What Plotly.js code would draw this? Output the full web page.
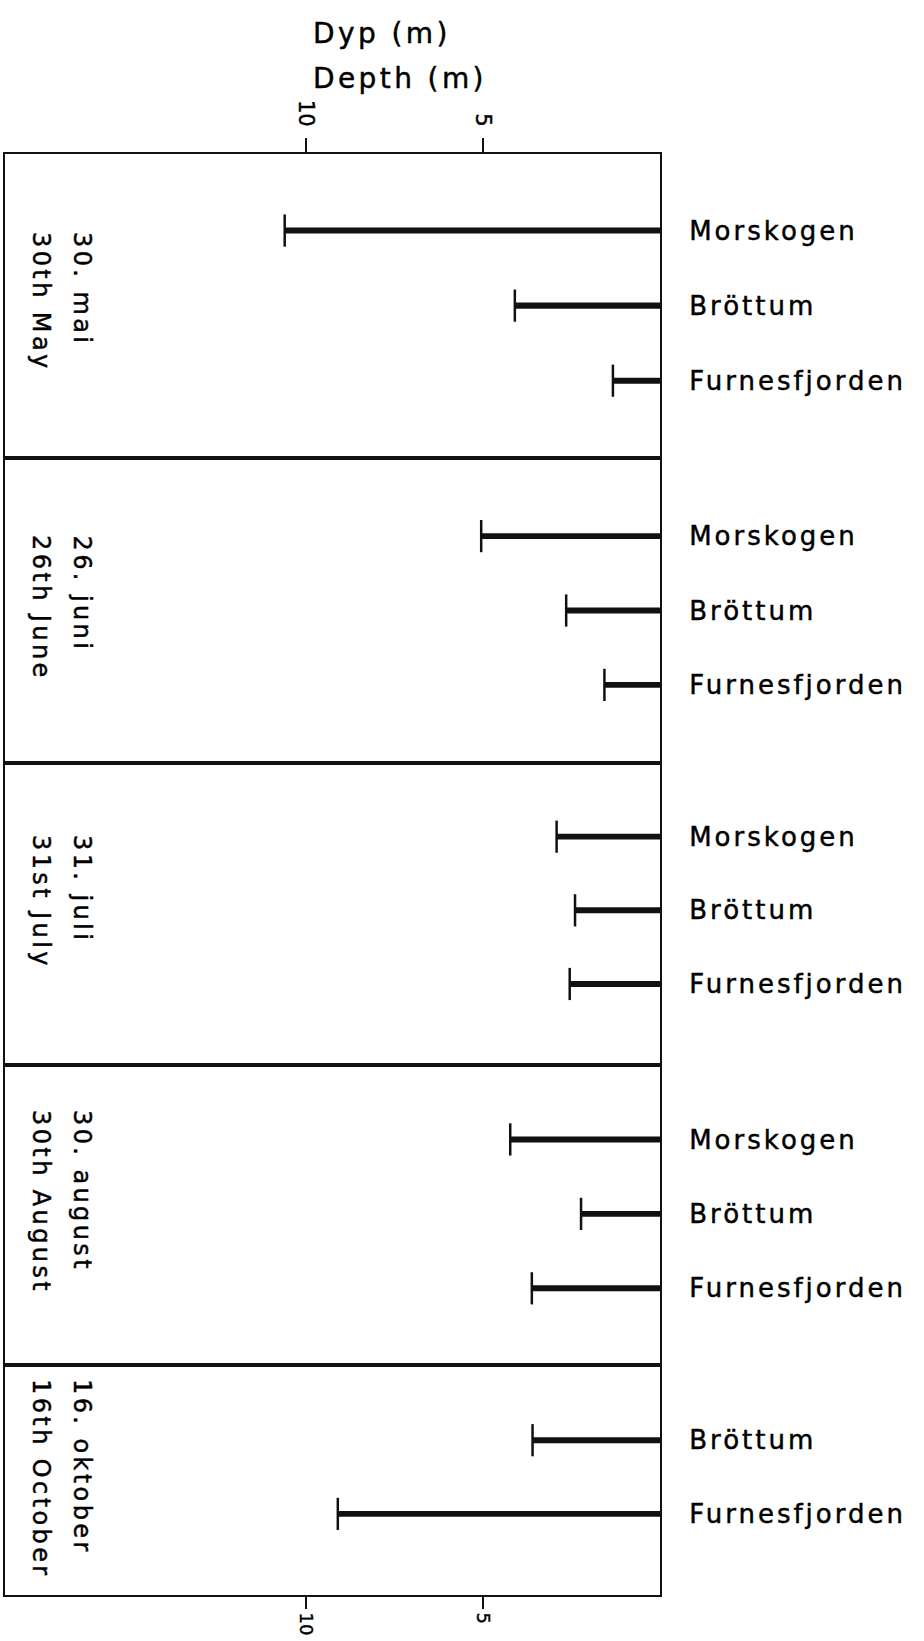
<!DOCTYPE html>
<html>
<head>
<meta charset="utf-8">
<script src="https://cdn.plot.ly/plotly-3.0.1.min.js"></script>
<style>
  html, body { margin: 0; padding: 0; background: #fff; }
  #chart { width: 924px; height: 1641px; }
  .ytick text, .y2tick text, .y3tick text, .y4tick text, .y5tick text { letter-spacing: 3px; }
  .annotation-text { letter-spacing: 3.4px; }
  .main-svg text { stroke: #000; stroke-width: 0.45px; }
</style>
</head>
<body>
<div id="chart"></div>
<script>
// ---- data ----
const datesNo = ['30. mai', '26. juni', '31. juli', '30. august', '16. oktober'];
const datesEn = ['30th May', '26th June', '31st July', '30th August', '16th October'];
const stations = ['Morskogen', 'Bröttum', 'Furnesfjorden'];
const depthMorskogen = [10.6, 5.05, 2.92, 4.23, null];
const depthBrottum = [4.1, 2.65, 2.4, 2.23, 3.6];
const depthFurnesfjorden = [1.33, 1.57, 2.55, 3.62, 9.1];
const depthTicks = [5, 10];
const titleLines = ['Dyp (m)', 'Depth (m)'];

// ---- layout helpers (pixel geometry of the frame) ----
const L = 5, R = 660, T = 154, B = 1595;
const W = R - L, H = B - T;
const px = x => (x - L) / W;
const py = y => (B - y) / H;
const panelEdges = [154, 458, 763, 1065, 1365, 1595];
const yRanges = [[3.03, -1.02], [3.05, -1.05], [3.1, -1.0], [3.03, -1.0], [2.1, -1.02]];
const dateTops = [230, 533, 833, 1108, 1377];
const FONT = 'DejaVu Sans, Arial, sans-serif';

const series = [depthMorskogen, depthBrottum, depthFurnesfjorden];
const traces = [];
const layout = {
  width: 924, height: 1641,
  margin: {l: L, r: 924 - R, t: T, b: 1641 - B, pad: 0},
  paper_bgcolor: '#fff', plot_bgcolor: '#fff',
  showlegend: false,
  font: {family: FONT, color: '#000'},
  annotations: []
};

for (let p = 0; p < datesNo.length; p++) {
  const cats = [], vals = [];
  for (let s = 0; s < stations.length; s++) {
    const v = series[s][p];
    if (v !== null && v !== undefined) { cats.push(stations[s]); vals.push(v); }
  }
  const n = p + 1;
  const xa = n === 1 ? 'x' : 'x' + n;
  const ya = n === 1 ? 'y' : 'y' + n;
  traces.push({
    type: 'bar', orientation: 'h', x: vals, y: cats, xaxis: xa, yaxis: ya,
    width: 0.08, marker: {color: '#111'}, hoverinfo: 'x+y'
  });
  traces.push({
    type: 'scatter', mode: 'markers', x: vals, y: cats, xaxis: xa, yaxis: ya,
    marker: {symbol: 'line-ns-open', size: 23, color: '#111', line: {width: 2.5, color: '#111'}},
    hoverinfo: 'skip'
  });
  const isTop = p === 0, isBottom = p === datesNo.length - 1;
  const xKey = n === 1 ? 'xaxis' : 'xaxis' + n;
  const yKey = n === 1 ? 'yaxis' : 'yaxis' + n;
  layout[xKey] = {
    anchor: ya, domain: [0, 1], range: [18.5, 0],
    matches: n === 1 ? undefined : 'x',
    side: isTop ? 'top' : 'bottom',
    showline: true, mirror: true, linewidth: 2, linecolor: '#111',
    showgrid: false, zeroline: false,
    ticks: (isTop || isBottom) ? 'outside' : '',
    ticklen: isTop ? 14 : 12, tickwidth: 2, tickcolor: '#111',
    tickvals: depthTicks,
    showticklabels: isTop || isBottom,
    tickangle: 90, ticklabelstandoff: isTop ? 4 : 0,
    tickfont: {family: FONT, size: isTop ? 21 : 18, color: '#000'},
    fixedrange: true
  };
  layout[yKey] = {
    anchor: xa,
    domain: [py(panelEdges[p + 1]), py(panelEdges[p])],
    type: 'category', categoryorder: 'array', categoryarray: cats,
    range: yRanges[p],
    side: 'right',
    showline: true, mirror: true, linewidth: 2, linecolor: '#111',
    showgrid: false, zeroline: false, ticks: '',
    ticklabelstandoff: 22,
    tickfont: {family: FONT, size: 26, color: '#000'},
    fixedrange: true
  };
  layout.annotations.push({
    text: datesNo[p], textangle: 90, xref: 'paper', yref: 'paper',
    x: px(82), y: py(dateTops[p]), xanchor: 'center', yanchor: 'top',
    showarrow: false, font: {family: FONT, size: 24, color: '#000'}
  });
  layout.annotations.push({
    text: datesEn[p], textangle: 90, xref: 'paper', yref: 'paper',
    x: px(41), y: py(dateTops[p]), xanchor: 'center', yanchor: 'top',
    showarrow: false, font: {family: FONT, size: 24, color: '#000'}
  });
}

const titleY = [34, 78];
titleLines.forEach((t, i) => {
  layout.annotations.push({
    text: t, xref: 'paper', yref: 'paper', x: px(311), y: py(titleY[i]),
    xanchor: 'left', yanchor: 'middle', showarrow: false,
    font: {family: FONT, size: 28, color: '#000'}
  });
});

Plotly.newPlot('chart', traces, layout, {displayModeBar: false, staticPlot: true});
</script>
</body>
</html>
